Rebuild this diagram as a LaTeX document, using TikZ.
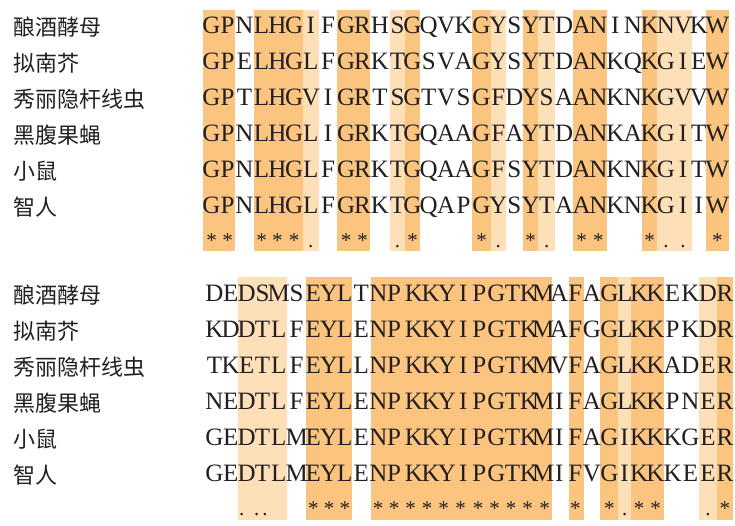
\documentclass[tikz,border=0pt]{standalone}
\usepackage{fontspec}
\setmainfont{Liberation Serif}
\newfontfamily\cjk{Noto Sans CJK SC}
\definecolor{bandD}{RGB}{252,197,127}
\definecolor{bandL}{RGB}{254,224,184}
\definecolor{ink}{RGB}{35,31,32}
\def\colsA{211.5,227.5,244.5,261.5,277.35,294.2,310.85,328.15,346.15,362.5,380,397.5,412.5,428.7,446.15,463.6,481.5,498.2,514.35,530.65,546.65,564.15,581.65,598.35,615.35,633,649.65,665.9,683.1,698.85,717.35}
\def\colsB{214.5,230.65,246.65,262.5,278.65,296.65,313.25,329,344.75,361.35,378.3,394,414,430.7,447,463.3,479.2,496.3,512.5,528.8,543.3,559.2,575.3,592,609.3,624.65,639.2,655.5,672.6,690.4,708,724.85}
\newcommand\seqrow[4]{%
  \foreach \ch [count=\c] in {#4} {%
    \pgfmathsetmacro\xx{{#2}[\c-1]}%
    \node[res] (#1-\c) at (\xx,#3) {\ch};}}
\newcommand\consrow[5]{%
  \foreach \c in {#4} {%
    \pgfmathsetmacro\xx{{#2}[\c-1]}%
    \node[cons] (#1-\c) at (\xx,#3) {#5};}}
\begin{document}
\begin{tikzpicture}[x=1pt,y=-1pt,
  res/.style={text=ink,font=\fontsize{25}{30}\selectfont,inner sep=0pt,anchor=base},
  cons/.style={text=ink,font=\fontsize{21}{25}\selectfont,inner sep=0pt,anchor=base},
  lab/.style={text=ink,font=\cjk\fontsize{22}{26}\selectfont,inner sep=0pt,anchor=base west}]
\useasboundingbox (0,0) rectangle (735,525);
% ---- block 1 bands
\foreach \a/\b in {203/235,254/302.7,337.3/370,405/420,472.3/490.7,523/538.3,573.3/606.7,642/657.3,706/728.7}
  \fill[bandD] (\a,10) rectangle (\b,251);
\foreach \a/\b in {302.7/319,390/405,490.7/505.7,538.3/555,657.3/691.7}
  \fill[bandL] (\a,10) rectangle (\b,251);
% ---- block 2 bands
\foreach \a/\b in {306/352,370.7/551.7,569/583.7,600.3/618.3,631/663.7,716.7/733}
  \fill[bandD] (\a,276.7) rectangle (\b,520);
\foreach \a/\b in {238.3/287.3,618.3/631,699.3/716.7}
  \fill[bandL] (\a,276.7) rectangle (\b,520);
% ---- labels
\foreach \t [count=\i] in {酿酒酵母,拟南芥,秀丽隐杆线虫,黑腹果蝇,小鼠,智人} {
  \node[lab] (la\i) at (13,{35+36*(\i-1)}) {\t};
  \node[lab] (lb\i) at (13,{303.2+36*(\i-1)}) {\t};
}
% ---- block 1 sequences
\seqrow{a1}{\colsA}{33.5}{G,P,N,L,H,G,I,F,G,R,H,S,G,Q,V,K,G,Y,S,Y,T,D,A,N,I,N,K,N,V,K,W}
\seqrow{a2}{\colsA}{69.5}{G,P,E,L,H,G,L,F,G,R,K,T,G,S,V,A,G,Y,S,Y,T,D,A,N,K,Q,K,G,I,E,W}
\seqrow{a3}{\colsA}{105.5}{G,P,T,L,H,G,V,I,G,R,T,S,G,T,V,S,G,F,D,Y,S,A,A,N,K,N,K,G,V,V,W}
\seqrow{a4}{\colsA}{141.5}{G,P,N,L,H,G,L,I,G,R,K,T,G,Q,A,A,G,F,A,Y,T,D,A,N,K,A,K,G,I,T,W}
\seqrow{a5}{\colsA}{177.5}{G,P,N,L,H,G,L,F,G,R,K,T,G,Q,A,A,G,F,S,Y,T,D,A,N,K,N,K,G,I,T,W}
\seqrow{a6}{\colsA}{213.5}{G,P,N,L,H,G,L,F,G,R,K,T,G,Q,A,P,G,Y,S,Y,T,A,A,N,K,N,K,G,I,I,W}
\consrow{sa}{\colsA}{247.5}{1,2,4,5,6,9,10,13,17,20,23,24,27,31}{*}
\consrow{da}{\colsA}{247.5}{7,12,18,21,28,29}{.}
% ---- block 2 sequences
\seqrow{b1}{\colsB}{301.7}{D,E,D,S,M,S,E,Y,L,T,N,P,K,K,Y,I,P,G,T,K,M,A,F,A,G,L,K,K,E,K,D,R}
\seqrow{b2}{\colsB}{337.7}{K,D,D,T,L,F,E,Y,L,E,N,P,K,K,Y,I,P,G,T,K,M,A,F,G,G,L,K,K,P,K,D,R}
\seqrow{b3}{\colsB}{373.7}{T,K,E,T,L,F,E,Y,L,L,N,P,K,K,Y,I,P,G,T,K,M,V,F,A,G,L,K,K,A,D,E,R}
\seqrow{b4}{\colsB}{409.7}{N,E,D,T,L,F,E,Y,L,E,N,P,K,K,Y,I,P,G,T,K,M,I,F,A,G,L,K,K,P,N,E,R}
\seqrow{b5}{\colsB}{445.7}{G,E,D,T,L,M,E,Y,L,E,N,P,K,K,Y,I,P,G,T,K,M,I,F,A,G,I,K,K,K,G,E,R}
\seqrow{b6}{\colsB}{481.7}{G,E,D,T,L,M,E,Y,L,E,N,P,K,K,Y,I,P,G,T,K,M,I,F,V,G,I,K,K,K,E,E,R}
\consrow{sb}{\colsB}{515.5}{7,8,9,23,25,27,28,32}{*}
\foreach \xx [count=\i] in {378,394,410.5,427,443.5,460.5,478,494.5,511,527.5,544.5}
  \node[cons] (sm\i) at (\xx,515.5) {*};
\consrow{db}{\colsB}{515.5}{26,31}{.}
\node[cons] (dx1) at (241.7,515.5) {.};
\node[cons] (dx2) at (256.7,515.5) {.};
\node[cons] (dx3) at (265,515.5) {.};
\end{tikzpicture}
\end{document}
